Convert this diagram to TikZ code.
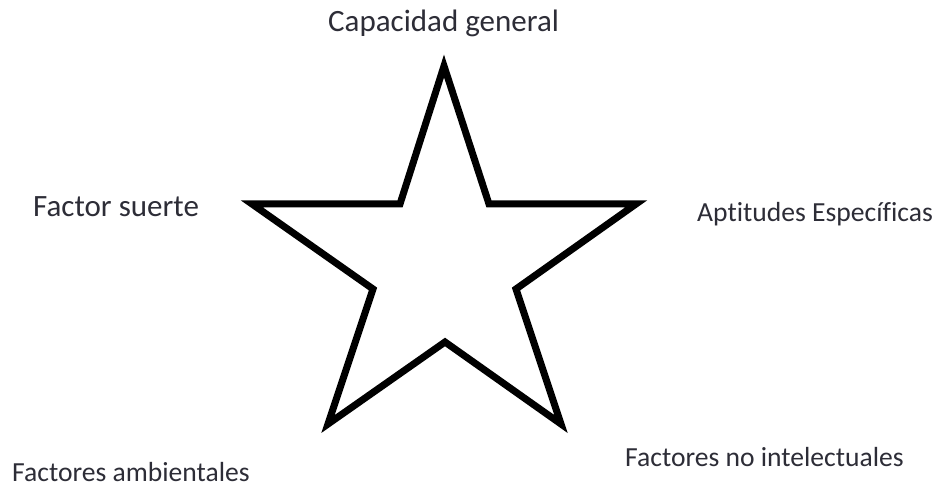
\documentclass[tikz,border=0pt]{standalone}
\usepackage{fontspec}
\setmainfont{Carlito}[Ligatures=NoCommon]
\definecolor{txt}{RGB}{45,45,55}
\begin{document}
\begin{tikzpicture}[x=1pt,y=-1pt,
  lbl/.style={anchor=base west,inner sep=0pt,text=txt},
  big/.style={font=\fontsize{31}{36}\selectfont},
  small/.style={font=\fontsize{27.6}{32}\selectfont},
  starline/.style={draw=black,line width=7pt,line join=miter,fill=white}]
\useasboundingbox[fill=white] (0,0) rectangle (937,489);
\coordinate (t) at (444,66);
\coordinate (ul) at (400,204);
\coordinate (l) at (252,204);
\coordinate (il) at (373,289);
\coordinate (bl) at (328,424);
\coordinate (b) at (445,342);
\coordinate (br) at (561,424);
\coordinate (ir) at (516,289);
\coordinate (r) at (636,204);
\coordinate (ur) at (489,204);
\draw[starline] (t) -- (ur) -- (r) -- (ir) -- (br) -- (b) -- (bl) -- (il) -- (l) -- (ul) -- cycle;
\node[lbl,big] (cap) at (328,32) {Capacidad general};
\node[lbl,big] (suerte) at (33,217) {Factor suerte};
\node[lbl,small] (apt) at (697,222) {Aptitudes Específicas};
\node[lbl,small] (amb) at (12,481) {Factores ambientales};
\node[lbl,small] (noint) at (625,466) {Factores no intelectuales};
\end{tikzpicture}
\end{document}
